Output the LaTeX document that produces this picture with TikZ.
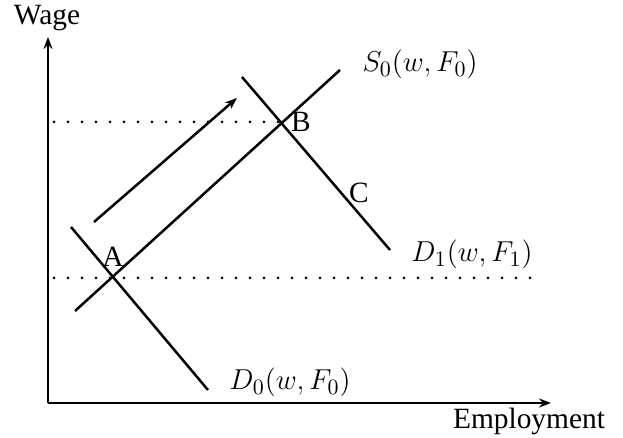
\documentclass[tikz,border=0pt]{standalone}
\usepackage{fontspec}
\setmainfont{Liberation Serif}
\usetikzlibrary{arrows.meta}
\begin{document}
\begin{tikzpicture}[x=0.5pt,y=-0.5pt,
  curve/.style={line width=1.25pt},
  axis/.style={line width=1.4pt,-{Stealth[length=6pt,width=4.5pt]}},
  guide/.style={line width=1.5pt,line cap=round,dash pattern=on 0pt off 7pt},
  lbl/.style={inner sep=0pt,anchor=base,font=\fontsize{14.7}{17}\selectfont},
  mlbl/.style={inner sep=0pt,anchor=base,font=\fontsize{15.8}{18}\selectfont}]
\useasboundingbox (0,0) rectangle (623,438);
% axes
\coordinate (O) at (48,403);
\coordinate (Ytop) at (48,37);
\coordinate (Xend) at (551,403);
\draw[axis] (O) -- (Ytop);
\draw[axis] (O) -- (Xend);
\node[lbl] (wage) at (47,25) {Wage};
\node[lbl] (emp) at (529,429) {Employment};
% guide lines
\coordinate (gB0) at (54,122);
\coordinate (gB1) at (280,122);
\coordinate (gA0) at (54,278);
\coordinate (gA1) at (542,278);
\draw[guide] (gB0) -- (gB1);
\draw[guide] (gA0) -- (gA1);
% curves
\coordinate (s0a) at (75,311);
\coordinate (s0b) at (340,70);
\coordinate (d0a) at (71,227);
\coordinate (d0b) at (208,390);
\coordinate (d1a) at (242,77);
\coordinate (d1b) at (390,250);
\draw[curve] (s0a) -- (s0b);
\draw[curve] (d0a) -- (d0b);
\draw[curve] (d1a) -- (d1b);
% shift arrow
\coordinate (sh0) at (94,222);
\coordinate (sh1) at (237,98);
\draw[curve,-{Stealth[length=6pt,width=4.5pt]}] (sh0) -- (sh1);
% labels
\node[lbl] (A) at (113,267) {A};
\node[lbl] (B) at (301,132) {B};
\node[lbl] (C) at (359,203) {C};
\node[mlbl] (S0) at (420,72) {$S_0(w,F_0)$};
\node[mlbl] (D1) at (472,262) {$D_1(w,F_1)$};
\node[mlbl] (D0) at (290,390) {$D_0(w,F_0)$};
\end{tikzpicture}
\end{document}
